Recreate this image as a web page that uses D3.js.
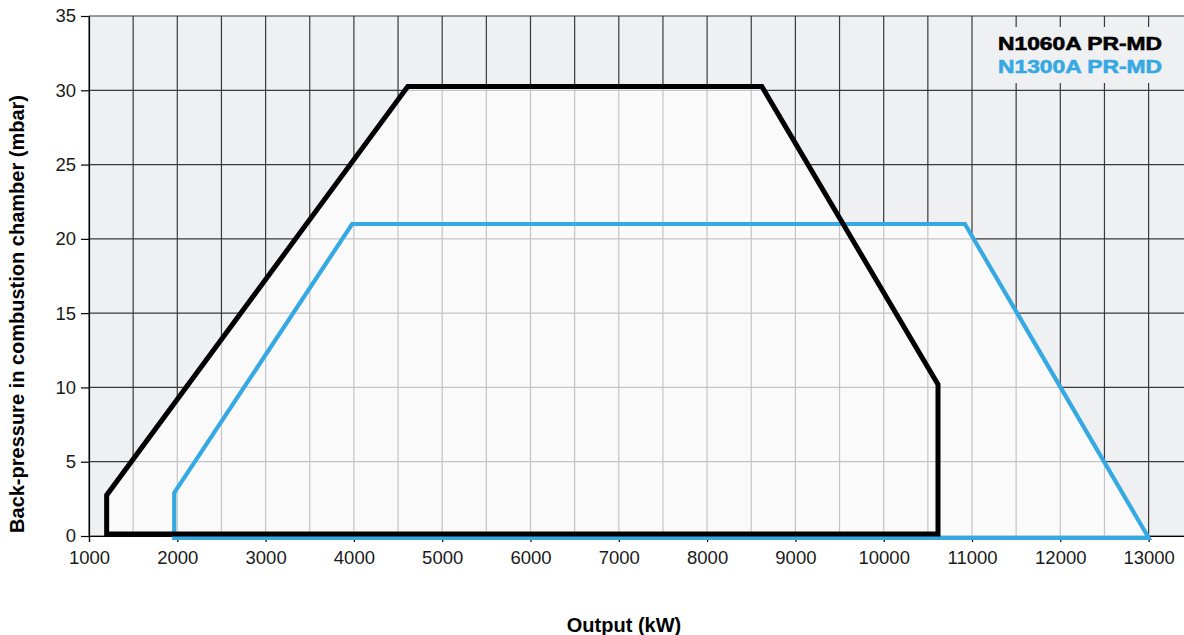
<!DOCTYPE html>
<html>
<head>
<meta charset="utf-8">
<script src="https://cdn.jsdelivr.net/npm/d3@7"></script>
<style>
  body { margin: 0; background: #fff; }
  svg { display: block; font-family: "Liberation Sans", Arial, sans-serif; }
</style>
</head>
<body>
<svg id="chart"></svg>
<script>
const W = 1184, H = 635;

// envelope data (output kW, back-pressure mbar)
const n1060 = [[1200, 0.13], [1200, 2.75], [4610, 30.25], [8620, 30.25], [10615, 10.2], [10615, 0.13]];
const n1300 = [[1965, -0.12], [1965, 2.9], [3980, 21], [10920, 21], [13000, -0.12]];

const xTicks = [1000, 2000, 3000, 4000, 5000, 6000, 7000, 8000, 9000, 10000, 11000, 12000, 13000];
const yTicks = [0, 5, 10, 15, 20, 25, 30, 35];
const xGrid = d3.range(1000, 13501, 500);

const seriesNames = ['N1060A PR-MD', 'N1300A PR-MD'];
const seriesColors = ['#000000', '#36a9e3'];

const svg = d3.select('#chart').attr('width', W).attr('height', H);

const x = d3.scaleLinear().domain([1000, 13500]).range([89, 89 + 12.5 * 88.3]);
const y = d3.scaleLinear().domain([0, 35]).range([536, 16]);

const line = d3.line().x(d => x(d[0])).y(d => y(d[1]));

// plot background
svg.append('rect')
    .attr('x', x(1000)).attr('y', y(35))
    .attr('width', x(13500) - x(1000)).attr('height', y(0) - y(35))
    .attr('fill', '#eff0f2');

// grid lines
const drawGrid = (g, color, width) => {
    g.selectAll('.vg').data(xGrid).enter().append('line')
        .attr('x1', d => x(d)).attr('x2', d => x(d))
        .attr('y1', y(0)).attr('y2', y(35))
        .attr('stroke', color).attr('stroke-width', width);
    g.selectAll('.hg').data(yTicks).enter().append('line')
        .attr('x1', x(1000)).attr('x2', x(13500))
        .attr('y1', d => y(d)).attr('y2', d => y(d))
        .attr('stroke', color).attr('stroke-width', width);
};
drawGrid(svg.append('g'), '#3a3a3a', 1.2);

// union of envelopes
const defs = svg.append('defs');
const clip = defs.append('clipPath').attr('id', 'env');
[n1060, n1300].forEach(s => clip.append('path').attr('d', line(s) + 'Z'));

const inner = svg.append('g').attr('clip-path', 'url(#env)');
inner.append('rect')
    .attr('x', 0).attr('y', 0).attr('width', W).attr('height', H)
    .attr('fill', '#fafafa');
drawGrid(inner, '#c4c4c4', 1.2);

// legend box (hides grid)
svg.append('rect')
    .attr('x', 988).attr('y', 27).attr('width', 210).attr('height', 56)
    .attr('fill', '#eff0f2');

// axes
const xAxis = d3.axisBottom(x).tickValues(xTicks).tickSize(6).tickPadding(9).tickFormat(d3.format('d'));
const gx = svg.append('g').attr('transform', `translate(0,${y(0)})`).call(xAxis);
gx.select('.domain').attr('stroke', '#000').attr('stroke-width', 1.2);
gx.selectAll('.tick line').attr('stroke', '#000').attr('stroke-width', 1.2);
gx.selectAll('text').attr('font-size', 18.5).attr('fill', '#1a1a1a')
    .attr('font-family', '"Liberation Sans", Arial, sans-serif');

const yAxis = d3.axisLeft(y).tickValues(yTicks).tickSize(8).tickPadding(5);
const gy = svg.append('g').attr('transform', `translate(${x(1000)},0)`).call(yAxis);
gy.select('.domain').attr('stroke', '#000').attr('stroke-width', 1.2);
gy.selectAll('.tick line').attr('stroke', '#000').attr('stroke-width', 1.2);
gy.selectAll('text').attr('font-size', 18.5).attr('fill', '#1a1a1a')
    .attr('font-family', '"Liberation Sans", Arial, sans-serif');

// envelopes
svg.append('path').attr('d', line(n1300) + 'Z')
    .attr('fill', 'none').attr('stroke', seriesColors[1]).attr('stroke-width', 4.2);
svg.append('path').attr('d', line(n1060) + 'Z')
    .attr('fill', 'none').attr('stroke', seriesColors[0]).attr('stroke-width', 5);

// legend
seriesNames.forEach((name, i) => {
    svg.append('text')
        .attr('x', 1162).attr('y', 50 + i * 23)
        .attr('text-anchor', 'end')
        .attr('font-size', 19).attr('font-weight', 'bold')
        .attr('fill', seriesColors[i])
        .attr('stroke', seriesColors[i]).attr('stroke-width', 0.6)
        .attr('textLength', 164).attr('lengthAdjust', 'spacingAndGlyphs')
        .text(name);
});

// axis titles
svg.append('text')
    .attr('x', 624).attr('y', 632)
    .attr('text-anchor', 'middle')
    .attr('font-size', 20).attr('font-weight', 'bold')
    .text('Output (kW)');

svg.append('text')
    .attr('transform', `translate(24,${(95 + 533) / 2}) rotate(-90)`)
    .attr('text-anchor', 'middle')
    .attr('font-size', 20).attr('font-weight', 'bold')
    .text('Back-pressure in combustion chamber (mbar)');
</script>
</body>
</html>
